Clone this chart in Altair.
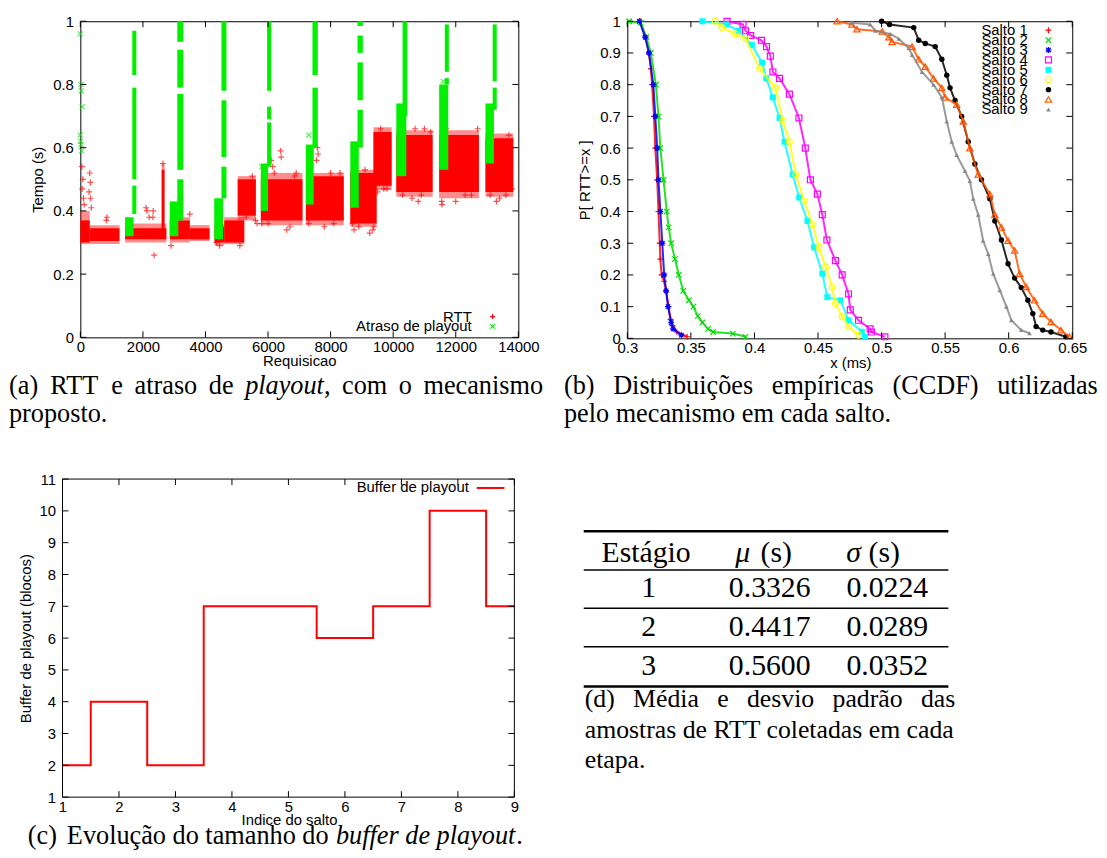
import altair as alt
import pandas as pd

SANS = "Liberation Sans"
SERIF = "Liberation Serif"

# ---------------- (a) RTT e atraso de playout ----------------
# RTT clouds: dense core and sparser fringe (request range, delay range in s)
rtt_x0 = [0, 300, 1430, 2600, 2860, 3500, 4290, 4600, 5030, 5770, 7210, 8630, 9370, 10100, 11470, 12950]
rtt_x1 = [300, 1250, 2750, 2690, 3500, 4130, 4600, 5240, 5610, 7100, 8420, 9470, 9950, 11260, 12740, 13840]
rtt_lo = [0.30, 0.305, 0.31, 0.34, 0.31, 0.31, 0.30, 0.30, 0.385, 0.37, 0.37, 0.36, 0.48, 0.46, 0.46, 0.46]
rtt_hi = [0.37, 0.345, 0.345, 0.53, 0.37, 0.345, 0.35, 0.37, 0.50, 0.50, 0.51, 0.52, 0.65, 0.64, 0.64, 0.63]
rtt_fringe_lo = [0.295, 0.295, 0.30, 0.33, 0.30, 0.305, 0.29, 0.295, 0.37, 0.355, 0.355, 0.35, 0.465, 0.445, 0.44, 0.445]
rtt_fringe_hi = [0.40, 0.355, 0.36, 0.55, 0.38, 0.355, 0.36, 0.38, 0.51, 0.52, 0.52, 0.53, 0.665, 0.655, 0.655, 0.645]
rtt_out_x = [50, 80, 60, 100, 120, 300, 320, 280, 330, 350, 850, 830, 2100, 2130, 2330, 2320, 2360, 2200,
             2640, 3500, 2900, 4450, 4350, 5500, 5600, 5650, 6100, 6150, 6400, 6420, 5800, 6600, 6700, 6850,
             6200, 7580, 7600, 7550, 7800, 8100, 8300, 8750, 9350, 9380, 9250, 8700, 9600, 9700, 9500, 10700,
             11000, 10600, 10800, 10900, 11550, 11560, 12000, 12500, 12700, 11700, 13400, 13600, 13300, 13800,
             5100, 5300, 6000, 6900, 7300, 8000, 8900, 9100, 9800, 10300, 11200, 12300, 13100, 13700]
rtt_out_y = [0.54, 0.50, 0.47, 0.44, 0.42, 0.52, 0.49, 0.46, 0.44, 0.41, 0.38, 0.37, 0.41, 0.40, 0.40, 0.38, 0.26, 0.38,
             0.55, 0.39, 0.29, 0.29, 0.30, 0.51, 0.37, 0.36, 0.56, 0.54, 0.59, 0.57, 0.36, 0.34, 0.35, 0.51,
             0.52, 0.60, 0.58, 0.56, 0.35, 0.36, 0.52, 0.34, 0.34, 0.35, 0.33, 0.36, 0.66, 0.47, 0.46, 0.66,
             0.66, 0.44, 0.43, 0.45, 0.43, 0.42, 0.43, 0.45, 0.66, 0.66, 0.44, 0.45, 0.43, 0.47,
             0.29, 0.38, 0.36, 0.52, 0.36, 0.52, 0.35, 0.53, 0.47, 0.45, 0.65, 0.45, 0.45, 0.64]
# playout delay: base wedge at each hop change
pb_x0 = [1430, 2860, 4280, 5770, 7210, 8630, 10100, 11470, 12950]
pb_x1 = [1700, 3130, 4560, 6000, 7460, 8900, 10420, 11760, 13220]
pb_lo = [0.32, 0.32, 0.31, 0.40, 0.42, 0.41, 0.51, 0.53, 0.55]
pb_hi = [0.38, 0.43, 0.44, 0.55, 0.61, 0.62, 0.74, 0.80, 0.74]
# playout delay: vertical spike segments
ps_x0 = [1660, 1660, 1660, 3100, 3100, 3100, 3100, 4510, 4510, 4510, 5970, 5970, 5970, 7420, 7420,
         8860, 8860, 8860, 8860, 10300, 11650, 11650, 13180, 13180]
ps_x1 = [1790, 1790, 1790, 3290, 3290, 3290, 3290, 4670, 4670, 4670, 6100, 6100, 6100, 7590, 7590,
         9030, 9030, 9030, 9030, 10450, 11780, 11780, 13310, 13310]
ps_lo = [0.39, 0.50, 0.83, 0.37, 0.53, 0.79, 0.935, 0.44, 0.57, 0.78, 0.54, 0.69, 0.78, 0.60, 0.83,
         0.60, 0.75, 0.90, 0.985, 0.70, 0.80, 0.84, 0.72, 0.81]
ps_hi = [0.48, 0.79, 0.97, 0.50, 0.77, 0.91, 1.00, 0.54, 0.75, 1.00, 0.68, 0.73, 1.00, 0.79, 1.00,
         0.72, 0.87, 0.955, 1.00, 1.00, 0.82, 0.99, 0.79, 0.99]
play_pt_x = [0, 20, 30, 60, 0, 20, 40, 10, 7300, 5800, 11550, 11600]
play_pt_y = [0.96, 0.80, 0.78, 0.73, 0.64, 0.61, 0.59, 0.62, 0.64, 0.54, 0.78, 0.81]
a_xticks = [0, 2000, 4000, 6000, 8000, 10000, 12000, 14000]
a_yticks = [0, 0.2, 0.4, 0.6, 0.8, 1.0]

# ---------------- (b) CCDF per hop ----------------
salto_names = ["Salto 1", "Salto 2", "Salto 3", "Salto 4", "Salto 5", "Salto 6", "Salto 7", "Salto 8", "Salto 9"]
s1x = [0.310, 0.3145, 0.317, 0.3185, 0.3195, 0.321, 0.322, 0.3235, 0.3245, 0.3255, 0.326, 0.327, 0.329, 0.3305, 0.3325, 0.334, 0.3355, 0.339, 0.347]
s1p = [1.0, 0.95, 0.90, 0.85, 0.80, 0.70, 0.60, 0.50, 0.40, 0.30, 0.25, 0.20, 0.18, 0.15, 0.10, 0.06, 0.04, 0.02, 0.005]
s2x = [0.3015, 0.3105, 0.315, 0.3185, 0.3225, 0.3245, 0.326, 0.3285, 0.331, 0.3325, 0.3345, 0.3375, 0.3405, 0.344, 0.3485, 0.352, 0.3555, 0.359, 0.3635, 0.3675, 0.383, 0.393]
s2p = [1.0, 0.995, 0.95, 0.90, 0.80, 0.70, 0.60, 0.50, 0.40, 0.35, 0.30, 0.25, 0.20, 0.15, 0.12, 0.10, 0.07, 0.05, 0.03, 0.02, 0.015, 0.005]
s3x = [0.3095, 0.314, 0.317, 0.3205, 0.322, 0.3235, 0.3245, 0.326, 0.3275, 0.329, 0.3305, 0.332, 0.3345, 0.336, 0.3425]
s3p = [1.0, 0.95, 0.90, 0.80, 0.70, 0.60, 0.50, 0.40, 0.30, 0.20, 0.15, 0.10, 0.05, 0.03, 0.01]
s4x = [0.3785, 0.391, 0.393, 0.397, 0.4055, 0.4095, 0.4125, 0.4145, 0.4197, 0.4275, 0.435, 0.440, 0.444, 0.4495, 0.4534, 0.457, 0.4637, 0.469, 0.474, 0.4754, 0.4819, 0.491, 0.492, 0.5026]
s4p = [1.0, 0.99, 0.97, 0.955, 0.94, 0.92, 0.89, 0.84, 0.82, 0.77, 0.695, 0.60, 0.50, 0.455, 0.39, 0.31, 0.245, 0.20, 0.14, 0.09, 0.057, 0.03, 0.02, 0.005]
s5x = [0.359, 0.378, 0.3875, 0.398, 0.406, 0.4093, 0.4145, 0.4197, 0.4236, 0.430, 0.4352, 0.4417, 0.4469, 0.4534, 0.4573, 0.4676, 0.4741, 0.4845, 0.487]
s5p = [1.0, 0.99, 0.97, 0.925, 0.87, 0.82, 0.76, 0.695, 0.62, 0.517, 0.444, 0.37, 0.287, 0.204, 0.13, 0.12, 0.057, 0.021, 0.005]
s6x = [0.369, 0.3745, 0.385, 0.393, 0.4041, 0.4166, 0.4223, 0.4275, 0.4326, 0.4391, 0.4456, 0.4508, 0.456, 0.4611, 0.4637, 0.4689, 0.4741, 0.4819]
s6p = [1.0, 0.98, 0.96, 0.945, 0.85, 0.79, 0.685, 0.62, 0.517, 0.434, 0.36, 0.287, 0.225, 0.162, 0.11, 0.068, 0.037, 0.01]
s7x = [0.500, 0.5063, 0.5253, 0.5292, 0.5344, 0.5422, 0.5474, 0.5513, 0.5539, 0.5578, 0.563, 0.5682, 0.5734, 0.5786, 0.5852, 0.5891, 0.5943, 0.5995, 0.6047, 0.6099, 0.6151, 0.619, 0.6216, 0.6268, 0.6333, 0.645]
s7p = [1.0, 0.99, 0.98, 0.94, 0.93, 0.92, 0.88, 0.83, 0.79, 0.75, 0.70, 0.62, 0.55, 0.50, 0.44, 0.37, 0.31, 0.235, 0.19, 0.16, 0.12, 0.078, 0.037, 0.026, 0.02, 0.005]
s8x = [0.465, 0.4767, 0.4806, 0.5005, 0.5057, 0.5083, 0.524, 0.5292, 0.5344, 0.5409, 0.5474, 0.55, 0.5591, 0.5643, 0.5695, 0.576, 0.5852, 0.5891, 0.5943, 0.5995, 0.6047, 0.6086, 0.6138, 0.6203, 0.6268, 0.6333, 0.6411, 0.6477]
s8p = [1.0, 0.99, 0.975, 0.968, 0.95, 0.935, 0.92, 0.88, 0.857, 0.82, 0.79, 0.76, 0.737, 0.684, 0.60, 0.517, 0.455, 0.39, 0.35, 0.308, 0.277, 0.204, 0.162, 0.12, 0.078, 0.052, 0.026, 0.005]
s9x = [0.477, 0.491, 0.4953, 0.507, 0.5135, 0.5214, 0.524, 0.5318, 0.5409, 0.5474, 0.5513, 0.5552, 0.5591, 0.5656, 0.5695, 0.5721, 0.576, 0.5799, 0.5839, 0.5878, 0.593, 0.5982, 0.6021, 0.6099, 0.6164]
s9p = [0.995, 0.99, 0.97, 0.96, 0.945, 0.915, 0.894, 0.84, 0.80, 0.76, 0.684, 0.62, 0.578, 0.528, 0.496, 0.44, 0.39, 0.308, 0.266, 0.204, 0.152, 0.10, 0.057, 0.026, 0.016]
b_xticks = [0.3, 0.35, 0.4, 0.45, 0.5, 0.55, 0.6, 0.65]
b_yticks = [0, 0.1, 0.2, 0.3, 0.4, 0.5, 0.6, 0.7, 0.8, 0.9, 1.0]

# ---------------- (c) playout buffer ----------------
salto_idx = [1, 2, 3, 4, 5, 6, 7, 8, 9]
buffer_blocos = [2, 4, 2, 7, 7, 6, 7, 10, 7]
c_xticks = [1, 2, 3, 4, 5, 6, 7, 8, 9]
c_yticks = [1, 2, 3, 4, 5, 6, 7, 8, 9, 10, 11]

# ---------------- (d) table ----------------
estagio = ["1", "2", "3"]
media = ["0.3326", "0.4417", "0.5600"]
desvio = ["0.0224", "0.0289", "0.0352"]

PLUS = "M-1,0L1,0M0,-1L0,1"
CROSS = "M-1,-1L1,1M-1,1L1,-1"
STAR = "M-1,0L1,0M0,-1L0,1M-0.75,-0.75L0.75,0.75M-0.75,0.75L0.75,-0.75"
ONE = pd.DataFrame({"a": [0]})


def T(text, x, y, size=15, font=SANS, style="normal", align="left", baseline="alphabetic", color="black"):
    return alt.Chart(pd.DataFrame({"t": [text]})).mark_text(
        font=font, fontSize=size, fontStyle=style, align=align, baseline=baseline, color=color
    ).encode(text="t:N", x=alt.value(x), y=alt.value(y))


def S(x, y, shape, color, size, filled, sw=1.0):
    return alt.Chart(ONE).mark_point(
        shape=shape, size=size, filled=filled, color=color, strokeWidth=sw, opacity=1
    ).encode(x=alt.value(x), y=alt.value(y))


def ticks(xv, yv, X, Y, xl, xr, H, L=6):
    bx = alt.Chart(pd.DataFrame({"v": xv})).mark_rule(color="black", strokeWidth=1)
    by = alt.Chart(pd.DataFrame({"v": yv})).mark_rule(color="black", strokeWidth=1)
    return [
        bx.encode(x=X("v"), y=alt.value(H), y2=alt.value(H - L)),
        bx.encode(x=X("v"), y=alt.value(0), y2=alt.value(L)),
        by.encode(y=Y("v"), x=alt.value(xl), x2=alt.value(xl + L)),
        by.encode(y=Y("v"), x=alt.value(xr - L), x2=alt.value(xr)),
    ]


CAP = 26.5

# ===== panel A =====
WA, HA = 442, 319
xa = alt.Scale(domain=[0, 14000], nice=False, zero=False)
ya = alt.Scale(domain=[0, 1], nice=False, zero=False)
ax_ax = alt.Axis(values=a_xticks, format="d", labels=True, titleX=221, titleY=23.5, titleBaseline="middle", titleAlign="center")
ax_ay = alt.Axis(values=a_yticks, format=".1~f", labels=True, titleX=-43, titleY=159.5, titleAngle=270,
                 titleBaseline="middle", titleAlign="center")
XA = lambda f: alt.X(f"{f}:Q", scale=xa, axis=ax_ax, title="Requisicao")
YA = lambda f: alt.Y(f"{f}:Q", scale=ya, axis=ax_ay, title="Tempo (s)")

df_rtt = pd.DataFrame({"x0": rtt_x0, "x1": rtt_x1, "lo": rtt_lo, "hi": rtt_hi,
                       "flo": rtt_fringe_lo, "fhi": rtt_fringe_hi})
df_rtt_out = pd.DataFrame({"x": rtt_out_x, "y": rtt_out_y})
df_pb = pd.DataFrame({"x0": pb_x0, "x1": pb_x1, "lo": pb_lo, "hi": pb_hi})
df_ps = pd.DataFrame({"x0": ps_x0, "x1": ps_x1, "lo": ps_lo, "hi": ps_hi})
df_play_pt = pd.DataFrame({"x": play_pt_x, "y": play_pt_y})
RED, GREEN = "#ff0000", "#00f000"

a_layers = [
    alt.Chart(df_rtt).mark_rect(color=RED, opacity=0.45).encode(x=XA("x0"), x2="x1:Q", y=YA("flo"), y2="fhi:Q"),
    alt.Chart(df_rtt).mark_rect(color=RED).encode(x=XA("x0"), x2="x1:Q", y=YA("lo"), y2="hi:Q"),
    alt.Chart(df_rtt_out).mark_point(shape=PLUS, size=36, filled=False, color=RED, strokeWidth=1.2).encode(
        x=XA("x"), y=YA("y")),
    alt.Chart(df_pb).mark_rect(color=GREEN).encode(x=XA("x0"), x2="x1:Q", y=YA("lo"), y2="hi:Q"),
    alt.Chart(df_ps).mark_rect(color=GREEN).encode(x=XA("x0"), x2="x1:Q", y=YA("lo"), y2="hi:Q"),
    alt.Chart(df_play_pt).mark_point(shape=CROSS, size=25, filled=False, color=GREEN, strokeWidth=1.2).encode(
        x=XA("x"), y=YA("y")),
]
a_layers += ticks(a_xticks, a_yticks, XA, YA, 0, WA, HA)
a_layers += [
    T("RTT", 395, 298, align="right", baseline="middle"),
    T("Atraso de playout", 395, 308, align="right", baseline="middle"),
    S(416, 298, PLUS, RED, 25, False, 1.2),
    S(416, 308, CROSS, GREEN, 20, False, 1.2),
]
for txt, x, st in [("(a)", -72, "normal"), ("RTT", -30.4, "normal"), ("e", 31.3, "normal"),
                   ("atraso", 54.7, "normal"), ("de", 129.6, "normal"), ("playout", 166.3, "italic"),
                   (",", 245.8, "normal"), ("com", 264.1, "normal"), ("o", 321.4, "normal"),
                   ("mecanismo", 346.3, "normal")]:
    a_layers.append(T(txt, x, 376.5, size=CAP, font=SERIF, style=st))
a_layers.append(T("proposto.", -72, 404, size=CAP, font=SERIF))
panel_a = alt.layer(*a_layers).properties(width=WA, height=HA)

# ===== panel B =====
WB, HB = 449, 320
xb = alt.Scale(domain=[0.3, 0.65], nice=False, zero=False)
yb = alt.Scale(domain=[0, 1], nice=False, zero=False)
ax_bx = alt.Axis(values=b_xticks, format=".2~f", labels=True, titleX=225, titleY=24, titleBaseline="middle", titleAlign="center")
ax_by = alt.Axis(values=b_yticks, format=".1~f", labels=True, titleX=-43, titleY=160, titleAngle=270,
                 titleBaseline="middle", titleAlign="center")
XB = lambda f: alt.X(f"{f}:Q", scale=xb, axis=ax_bx, title="x (ms)")
YB = lambda f: alt.Y(f"{f}:Q", scale=yb, axis=ax_by, title="P[ RTT>=x ]")

series = [
    (s1x, s1p, "#ff0000", PLUS, False, 36),
    (s2x, s2p, "#00dd00", CROSS, False, 30),
    (s3x, s3p, "#0000ff", STAR, False, 36),
    (s4x, s4p, "#ff00ff", "square", False, 36),
    (s5x, s5p, "#00ffff", "square", True, 36),
    (s6x, s6p, "#ffff00", "circle", False, 36),
    (s7x, s7p, "#000000", "circle", True, 30),
    (s8x, s8p, "#ff5500", "triangle-up", False, 40),
    (s9x, s9p, "#888888", "triangle-up", True, 22),
]
b_layers = []
for i, (sx, sp, col, shp, fil, sz) in enumerate(series):
    df = pd.DataFrame({"x": sx, "p": sp})
    b_layers.append(alt.Chart(df).mark_line(color=col, strokeWidth=2.0, opacity=0.85).encode(x=XB("x"), y=YB("p")))
    b_layers.append(alt.Chart(df).mark_point(shape=shp, filled=fil, size=sz, color=col, strokeWidth=1.2,
                                             opacity=1).encode(x=XB("x"), y=YB("p")))
b_layers += ticks(b_xticks, b_yticks, XB, YB, 0, WB, HB)
for i, (sx, sp, col, shp, fil, sz) in enumerate(series):
    b_layers.append(T(salto_names[i], 404, 9 + 10 * i, align="right", baseline="middle"))
    b_layers.append(S(425, 9 + 10 * i, shp, col, sz, fil, 1.2))
for txt, x in [("(b)", -64), ("Distribuições", -14.3), ("empíricas", 145.8), ("(CCDF)", 267.6), ("utilizadas", 373.3)]:
    b_layers.append(T(txt, x, 376.5, size=CAP, font=SERIF))
b_layers.append(T("pelo mecanismo em cada salto.", -64, 404, size=CAP, font=SERIF))
panel_b = alt.layer(*b_layers).properties(width=WB, height=HB)

# ===== panel C (frame starts 18px left of the column origin) =====
SH = 18
WC, HC = 456 - SH, 321
xc = alt.Scale(domain=[1, 9], range=[-SH, WC], nice=False, zero=False)
yc = alt.Scale(domain=[1, 11], nice=False, zero=False)
ax_cx = alt.Axis(values=c_xticks, format="d", labels=True, titleX=210.6, titleY=23, titleBaseline="middle", titleAlign="center")
ax_cy = alt.Axis(values=c_yticks, format="d", labels=True, offset=SH, titleX=-37, titleY=160.5, titleAngle=270,
                 titleBaseline="middle", titleAlign="center")
XC = lambda f: alt.X(f"{f}:Q", scale=xc, axis=ax_cx, title="Indice do salto")
YC = lambda f: alt.Y(f"{f}:Q", scale=yc, axis=ax_cy, title="Buffer de playout (blocos)")
df_buf = pd.DataFrame({"salto": salto_idx, "buf": buffer_blocos})
c_layers = [
    alt.Chart(df_buf).mark_line(interpolate="step", color=RED, strokeWidth=2).encode(x=XC("salto"), y=YC("buf")),
]
c_layers += ticks(c_xticks, c_yticks, XC, YC, -SH, WC, HC)
frame = alt.Chart(ONE).mark_rule(color="black", strokeWidth=1)
c_layers += [
    frame.encode(x=alt.value(-SH), x2=alt.value(WC), y=alt.value(0)),
    frame.encode(x=alt.value(-SH), x2=alt.value(WC), y=alt.value(HC)),
    frame.encode(x=alt.value(-SH), y=alt.value(0), y2=alt.value(HC)),
    frame.encode(x=alt.value(WC), y=alt.value(0), y2=alt.value(HC)),
    T("Buffer de playout", 392, 8, align="right", baseline="middle"),
    alt.Chart(ONE).mark_rule(color=RED, strokeWidth=2).encode(x=alt.value(400), x2=alt.value(428), y=alt.value(9)),
    T("(c)", -53, 368.5, size=CAP, font=SERIF),
    T("Evolução do tamanho do", -13.6, 368.5, size=CAP, font=SERIF),
    T("buffer de playout", 258, 368.5, size=CAP, font=SERIF, style="italic"),
    T(".", 440, 368.5, size=CAP, font=SERIF),
]
panel_c = alt.layer(*c_layers).properties(width=WC, height=HC, view=alt.ViewBackground(strokeOpacity=0))

# ===== panel D (table) =====
df_tab = pd.DataFrame({"row": [0, 1, 2], "estagio": estagio, "media": media, "desvio": desvio})
rowy = alt.Y("row:Q", scale=alt.Scale(domain=[0, 2], range=[119.3, 197.7]), axis=None)
TF = 30
DC = 26
d_layers = []
for yy, sw in [(52.7, 2.4), (91.7, 1.6), (130.3, 1.6), (169.3, 1.6), (209.3, 2.4)]:
    d_layers.append(alt.Chart(ONE).mark_rule(color="black", strokeWidth=sw).encode(
        x=alt.value(0), x2=alt.value(368), y=alt.value(yy)))
d_layers += [
    T("Estágio", 63, 84, size=TF, font=SERIF, align="center"),
    T("μ", 153, 84, size=TF, font=SERIF, style="italic"),
    T("(s)", 178.5, 84, size=TF, font=SERIF),
    T("σ", 265, 84, size=TF, font=SERIF, style="italic"),
    T("(s)", 287.5, 84, size=TF, font=SERIF),
]
for col, xx in [("estagio", 65.5), ("media", 187.7), ("desvio", 306.3)]:
    d_layers.append(alt.Chart(df_tab).mark_text(font=SERIF, fontSize=TF, align="center", baseline="alphabetic",
                                               color="black").encode(text=f"{col}:N", x=alt.value(xx), y=rowy))
for txt, x in [("(d)", 1), ("Média", 49.8), ("e", 134.7), ("desvio", 164.7), ("padrão", 251.1), ("das", 340.3)]:
    d_layers.append(T(txt, x, 230.5, size=DC, font=SERIF))
d_layers.append(T("amostras de RTT coletadas em cada", 1, 261.5, size=DC, font=SERIF))
d_layers.append(T("etapa.", 1, 291.5, size=DC, font=SERIF))
panel_d = alt.layer(*d_layers).properties(width=380, height=300, view=alt.ViewBackground(strokeOpacity=0))

chart = alt.vconcat(
    alt.hconcat(panel_a, panel_b, spacing=19),
    alt.hconcat(panel_c, panel_d, spacing=50),
    spacing=45,
).properties(
    padding={"left": 0, "top": 1.5, "right": 0, "bottom": 0}, background="white"
).configure_view(
    stroke="black", strokeWidth=1
).configure_axis(
    labelFont=SANS, labelFontSize=15, labelColor="black", titleFont=SANS, titleFontSize=15,
    titleFontWeight="normal", titleColor="black", grid=False, domain=False, ticks=True, tickSize=0,
    labelOverlap=False, labelFlush=False
).configure_axisLeft(labelPadding=7).configure_axisBottom(labelPadding=2)

chart.save("out.html", embed_options={"renderer": "svg", "actions": False})
